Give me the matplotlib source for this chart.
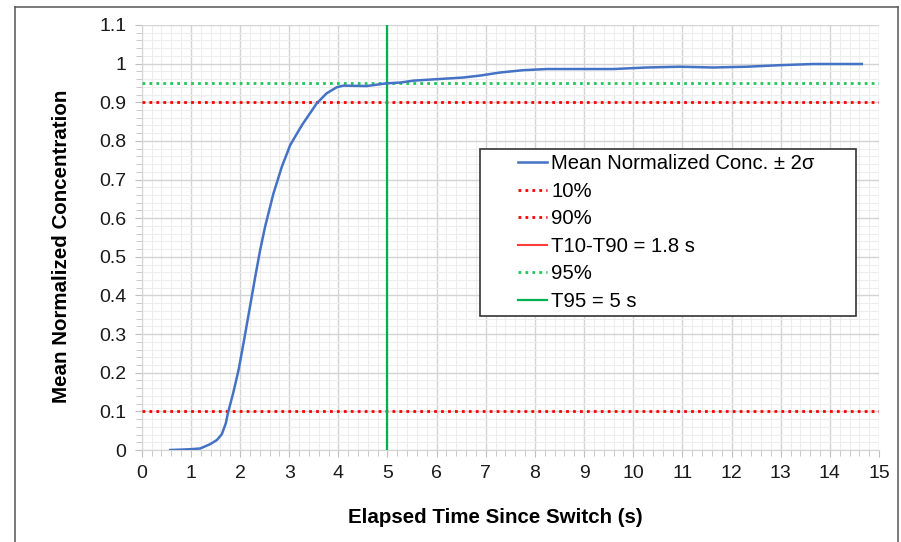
import matplotlib.pyplot as plt
from matplotlib.lines import Line2D
from matplotlib.patches import Rectangle
from matplotlib.ticker import MultipleLocator

# curve
time_s = [0.58, 0.98, 1.19, 1.39, 1.53, 1.63, 1.71, 1.76, 1.86, 1.97, 2.07, 2.19, 2.31,
          2.41, 2.51, 2.68, 2.85, 3.02, 3.26, 3.56, 3.76, 3.97, 4.10, 4.58, 4.98, 5.26,
          5.53, 6.54, 6.88, 7.29, 7.76, 8.24, 9.60, 10.27, 10.95, 11.63, 12.31, 12.99,
          13.66, 14.65]
conc = [0.0, 0.002, 0.004, 0.015, 0.026, 0.041, 0.069, 0.099, 0.147, 0.207, 0.276,
        0.362, 0.449, 0.518, 0.578, 0.664, 0.733, 0.789, 0.841, 0.897, 0.923, 0.939,
        0.943, 0.942, 0.949, 0.951, 0.956, 0.964, 0.969, 0.977, 0.983, 0.986, 0.986,
        0.990, 0.992, 0.990, 0.992, 0.996, 0.999, 0.999]
t10_level = 0.1
t90_level = 0.9
t95_level = 0.95
t95_time = 5
x_ticks = list(range(0, 16))
y_ticks = [0, 0.1, 0.2, 0.3, 0.4, 0.5, 0.6, 0.7, 0.8, 0.9, 1, 1.1]
y_labels = ['0', '0.1', '0.2', '0.3', '0.4', '0.5', '0.6', '0.7', '0.8', '0.9', '1', '1.1']

plt.rcParams['font.family'] = ['Liberation Sans', 'DejaVu Sans']

fig = plt.figure(figsize=(9.01, 5.42), dpi=100)
ax = fig.add_axes([0.1573, 0.1697, 0.8183, 0.7842])

ax.plot(time_s, conc, color='#4472C4', lw=1.8, label='Mean Normalized Conc. ± 2σ',
        zorder=5, solid_joinstyle='round')
ax.axhline(t10_level, color='#FF0000', ls=(0, (1, 1.5)), lw=2, label='10%', zorder=3)
ax.axhline(t90_level, color='#FF0000', ls=(0, (1, 1.5)), lw=2, label='90%', zorder=3)
ax.plot([], [], color='#FF3B3B', lw=1.5, label='T10-T90 = 1.8 s')
ax.axhline(t95_level, color='#22C55A', ls=(0, (1, 1.5)), lw=2, label='95%', zorder=3)
ax.axvline(t95_time, color='#00B050', lw=1.6, label='T95 = 5 s', zorder=4)

ax.set_xlim(0, 15)
ax.set_ylim(0, 1.1)
ax.set_xticks(x_ticks)
ax.set_yticks(y_ticks)
ax.set_yticklabels(y_labels)
ax.xaxis.set_minor_locator(MultipleLocator(0.2))
ax.yaxis.set_minor_locator(MultipleLocator(0.02))
ax.grid(which='major', color='#D4D4D4', lw=1.0)
ax.grid(which='minor', color='#EDEDED', lw=0.8)
ax.set_axisbelow(True)
for s in ['top', 'right']:
    ax.spines[s].set_visible(False)
for s in ['left', 'bottom']:
    ax.spines[s].set_color('#D4D4D4')
ax.tick_params(which='both', color='#BFBFBF', direction='out')
ax.tick_params(which='major', length=5, labelsize=14, labelcolor='#1a1a1a', pad=6)
ax.tick_params(which='minor', length=4)

ax.set_xlabel('Elapsed Time Since Switch (s)', fontsize=14.8, fontweight='bold', va='center')
ax.set_ylabel('Mean Normalized Concentration', fontsize=14.8, fontweight='bold', va='center')
ax.xaxis.set_label_coords(0.48, -0.158)
ax.yaxis.set_label_coords(-0.109, 0.48)

# legend box drawn by hand so the wide left padding matches
ax.add_patch(Rectangle((0.4588, 0.315), 0.5102, 0.393, transform=ax.transAxes,
                       facecolor='white', edgecolor='#333333', lw=1.2, zorder=6))
leg = ax.legend(loc='upper left', bbox_to_anchor=(0.5104, 0.696), frameon=False,
                fontsize=14.6, handlelength=1.45, handletextpad=0.2,
                labelspacing=0.42, borderpad=0, borderaxespad=0)
leg.set_zorder(7)

# outer frame around the chart
fig.add_artist(Line2D([15/901, 15/901], [0, 1-7/542], color='#555555', lw=1.1))
fig.add_artist(Line2D([15/901, 898/901], [1-7/542, 1-7/542], color='#555555', lw=1.1))
fig.add_artist(Line2D([898/901, 898/901], [0, 1-7/542], color='#555555', lw=1.1))

fig.savefig('out.png', dpi=100)
